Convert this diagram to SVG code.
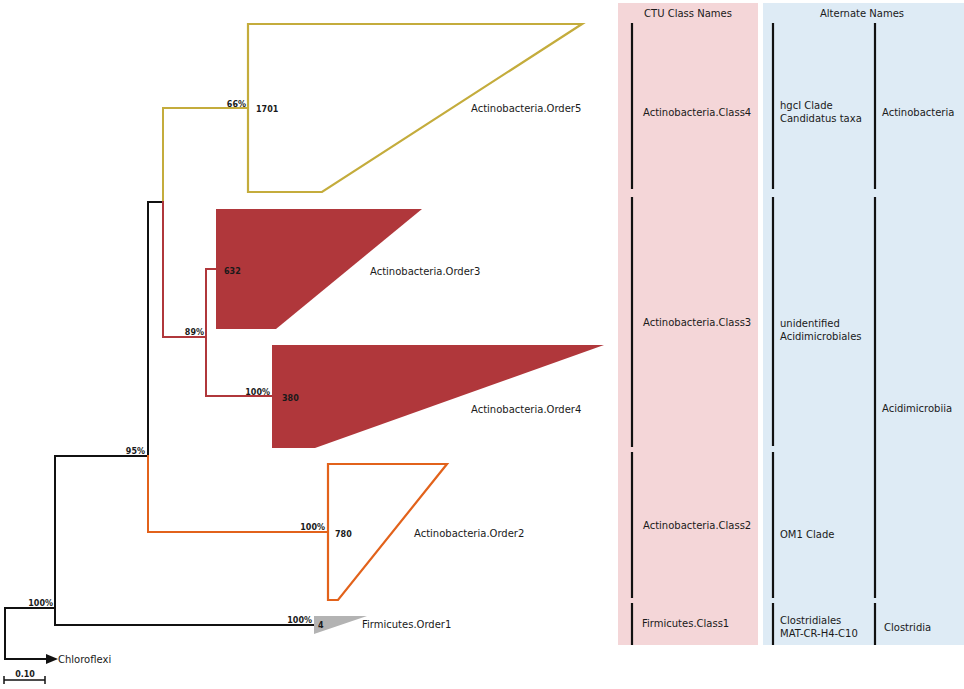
<svg xmlns="http://www.w3.org/2000/svg" width="964" height="689" viewBox="0 0 964 689">
<style>
text{font-family:"DejaVu Sans","Liberation Sans",sans-serif;fill:#1a1a1a}
.t{font-size:10px}
.b{font-size:8px;font-weight:bold}
.e{fill:none;stroke-width:2;stroke-linejoin:miter;stroke-linecap:square}
.k{stroke:#111}
.ol{stroke:#c4ac3c}
.rd{stroke:#b0373b}
.or{stroke:#e2621b}
.bar{stroke:#111;stroke-width:2.2;fill:none}
</style>
<defs>
<marker id="ah" markerWidth="12" markerHeight="10" refX="0" refY="5" orient="auto" markerUnits="userSpaceOnUse">
<path d="M0,0 L12,5 L0,10 z" fill="#111"/>
</marker>
</defs>
<rect width="964" height="689" fill="#fff"/>
<g id="panels">
<rect x="618" y="3" width="140" height="642" fill="#f4d6d8"/>
<rect x="763" y="3" width="201" height="642" fill="#deebf5"/>
<text class="t" x="688" y="17" text-anchor="middle">CTU Class Names</text>
<text class="t" x="862" y="17" text-anchor="middle">Alternate Names</text>
<path class="bar" d="M632,23V189M632,197V447M632,452V598M632,603V645M773,23V189M773,197V446M773,452V598M773,603V645M875,23V189M875,197V598M875,603V645"/>
</g>
<g id="class4"><text class="t" x="643" y="116">Actinobacteria.Class4</text></g>
<g id="class3"><text class="t" x="643" y="326">Actinobacteria.Class3</text></g>
<g id="class2"><text class="t" x="643" y="529">Actinobacteria.Class2</text></g>
<g id="class1"><text class="t" x="642" y="627">Firmicutes.Class1</text></g>
<g id="alt-hgci"><text class="t" x="780" y="109">hgcI Clade</text><text class="t" x="780" y="122">Candidatus taxa</text></g>
<g id="alt-actino"><text class="t" x="882" y="116">Actinobacteria</text></g>
<g id="alt-unid"><text class="t" x="780" y="327">unidentified</text><text class="t" x="780" y="340">Acidimicrobiales</text></g>
<g id="alt-acidimicrobiia"><text class="t" x="882" y="412">Acidimicrobiia</text></g>
<g id="alt-om1"><text class="t" x="780" y="538">OM1 Clade</text></g>
<g id="alt-clostridiales"><text class="t" x="780" y="624">Clostridiales</text><text class="t" x="780" y="637">MAT-CR-H4-C10</text></g>
<g id="alt-clostridia"><text class="t" x="884" y="631">Clostridia</text></g>

<g id="connectors">
<path class="e k" d="M45,659H5V608H55M55,456V625H314M55,456H148V202H163"/>
<path d="M45,659H46" stroke="#111" stroke-width="2" marker-end="url(#ah)"/>
<path class="e ol" d="M163,202V108H248"/>
<path class="e rd" d="M163,202V337H206M217,269H206V396H272"/>
<path class="e or" d="M148,456V532H328"/>
<path d="M4,680H45M4,676V684M45,676V684" stroke="#111" stroke-width="1.5" fill="none"/>
<text class="b" x="25" y="677" text-anchor="middle">0.10</text>
<text class="b" x="53" y="606" text-anchor="end">100%</text>
<text class="b" x="145" y="454" text-anchor="end">95%</text>
<text class="b" x="246" y="107" text-anchor="end">66%</text>
<text class="b" x="204" y="335" text-anchor="end">89%</text>
<text class="b" x="270" y="395" text-anchor="end">100%</text>
<text class="b" x="325" y="530" text-anchor="end">100%</text>
<text class="b" x="312" y="623" text-anchor="end">100%</text>
</g>

<g id="chloroflexi"><text class="t" x="58" y="663">Chloroflexi</text></g>
<g id="order5">
<polygon points="248,24 582,24 322,192 248,192" fill="none" stroke="#c4ac3c" stroke-width="2.2"/>
<text class="b" x="256" y="112">1701</text>
<text class="t" x="471" y="112">Actinobacteria.Order5</text>
</g>
<g id="order3">
<polygon points="216,209 422,209 276,329 216,329" fill="#b0373b"/>
<text class="b" x="224" y="274">632</text>
<text class="t" x="370" y="275">Actinobacteria.Order3</text>
</g>
<g id="order4">
<polygon points="272,345 604,345 315,448 272,448" fill="#b0373b"/>
<text class="b" x="282" y="401">380</text>
<text class="t" x="471" y="413">Actinobacteria.Order4</text>
</g>
<g id="order2">
<polygon points="328,464 447,464 338,600 328,600" fill="none" stroke="#e2621b" stroke-width="2.2"/>
<text class="b" x="335" y="537">780</text>
<text class="t" x="414" y="537">Actinobacteria.Order2</text>
</g>
<g id="order1">
<polygon points="314,616 367,616 314,634" fill="#b3b3b3"/>
<text class="b" x="318" y="628">4</text>
<text class="t" x="362" y="628">Firmicutes.Order1</text>
</g>
</svg>
